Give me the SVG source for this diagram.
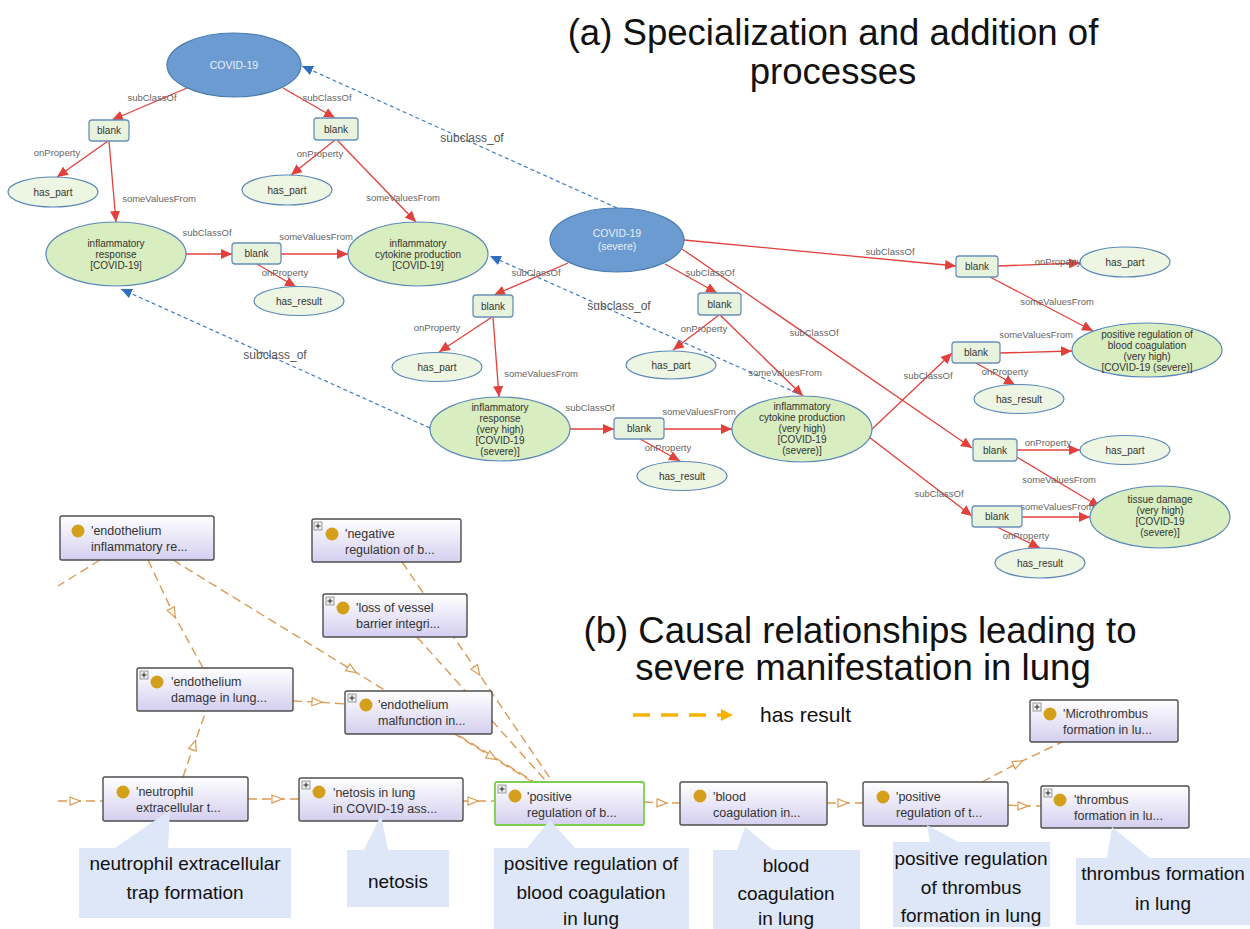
<svg xmlns="http://www.w3.org/2000/svg" width="1250" height="929" viewBox="0 0 1250 929">
<style>
  .title{font-family:"Liberation Sans",Arial,sans-serif;font-size:36.6px;fill:#111;text-anchor:middle}
  .cls{fill:#d8edc0;stroke:#5a88b8;stroke-width:1.2}
  .prop{fill:#edf5e3;stroke:#5a88b8;stroke-width:1.2}
  .root{fill:#6b9bd0;stroke:#4b7db3;stroke-width:1.2}
  .blank{fill:#e8f3de;stroke:#6a90b8;stroke-width:1.3}
  .nt{font-family:"Liberation Sans",Arial,sans-serif;font-size:10px;fill:#333;text-anchor:middle}
  .rt{font-family:"Liberation Sans",Arial,sans-serif;font-size:10.5px;fill:#e8eff9;text-anchor:middle}
  .el{font-family:"Liberation Sans",Arial,sans-serif;font-size:9.5px;fill:#666;text-anchor:middle}
  .sl{font-family:"Liberation Sans",Arial,sans-serif;font-size:12px;fill:#555;text-anchor:middle}
  .red{stroke:#e2403a;stroke-width:1.3;fill:none;marker-end:url(#redArrow)}
  .blue{stroke:#3f7cc4;stroke-width:1.2;fill:none;stroke-dasharray:4 3;marker-end:url(#blueArrow)}
  .res{stroke:#dc9a52;stroke-width:1.4;fill:none;stroke-dasharray:9 5;marker-mid:url(#openTri)}
  .resp{stroke:#dc9a52;stroke-width:1.4;fill:none;stroke-dasharray:9 5}
  .box{fill:url(#boxGrad);stroke:#4d4d4d;stroke-width:1.4}
  .boxSel{fill:url(#boxGrad);stroke:#7ccf4c;stroke-width:1.8}
  .dot{fill:#d4a01c}
  .bt{font-family:"Liberation Sans",Arial,sans-serif;font-size:12.5px;fill:#333}
  .plus{fill:#eeeeee;stroke:#888;stroke-width:0.8}
  .plusl{stroke:#222;stroke-width:1}
  .call{fill:#dde7f7}
  .ct{font-family:"Liberation Sans",Arial,sans-serif;font-size:19px;fill:#111;text-anchor:middle}
  .lg{font-family:"Liberation Sans",Arial,sans-serif;font-size:21px;fill:#111}
</style>
<defs>
  <marker id="redArrow" markerUnits="userSpaceOnUse" markerWidth="12" markerHeight="10" refX="11" refY="5" orient="auto">
    <path d="M0,0 L11,5 L0,10 z" fill="#e2403a"/>
  </marker>
  <marker id="blueArrow" markerUnits="userSpaceOnUse" markerWidth="12" markerHeight="10" refX="11" refY="5" orient="auto">
    <path d="M0,0 L11,5 L0,10 z" fill="#2f6fbf"/>
  </marker>
  <marker id="openTri" markerUnits="userSpaceOnUse" markerWidth="14" markerHeight="12" refX="6" refY="5" orient="auto">
    <path d="M1,1 L11,5 L1,9 z" fill="#ffffff" stroke="#dc9a52" stroke-width="1.2"/>
  </marker>
  <marker id="goldArrow" markerUnits="userSpaceOnUse" markerWidth="14" markerHeight="14" refX="2" refY="7" orient="auto">
    <path d="M0,1 L12,7 L0,13 z" fill="#f5b400"/>
  </marker>
  <linearGradient id="boxGrad" x1="0" y1="0" x2="0" y2="1">
    <stop offset="0" stop-color="#ffffff"/>
    <stop offset="1" stop-color="#d4cfef"/>
  </linearGradient>
</defs>

<!-- headings -->
<text class="title" x="833" y="45">(a) Specialization and addition of</text>
<text class="title" x="833" y="84">processes</text>
<text class="title" x="860" y="643">(b) Causal relationships leading to</text>
<text class="title" x="863" y="680">severe manifestation in lung</text>

<!-- ontology edges -->
<g id="edges-a">
  <path class="red" d="M187,88 L112,120"/>
  <path class="red" d="M283,88 L335,118"/>
  <path class="red" d="M108,141 L57,177"/>
  <path class="red" d="M109,141 L116,222"/>
  <path class="red" d="M335,140 L291,175"/>
  <path class="red" d="M337,140 L416,222"/>
  <path class="red" d="M186,254 L232,254"/>
  <path class="red" d="M281,254 L348,254"/>
  <path class="red" d="M257,264 L296,287"/>
  <path class="red" d="M568,263 L494,295"/>
  <path class="red" d="M665,264 L717,293"/>
  <path class="red" d="M492,317 L439,352"/>
  <path class="red" d="M493,317 L499,397"/>
  <path class="red" d="M719,315 L673,350"/>
  <path class="red" d="M720,315 L803,396"/>
  <path class="red" d="M570,429 L614,429"/>
  <path class="red" d="M664,429 L732,429"/>
  <path class="red" d="M640,439 L680,461"/>
  <path class="red" d="M684,240 L956,266"/>
  <path class="red" d="M682,249 L972,448"/>
  <path class="red" d="M998,266 L1080,263"/>
  <path class="red" d="M990,277 L1093,331"/>
  <path class="red" d="M870,431 L952,353"/>
  <path class="red" d="M869,437 L972,516"/>
  <path class="red" d="M1000,353 L1072,351"/>
  <path class="red" d="M976,363 L1015,385"/>
  <path class="red" d="M1017,450 L1080,450"/>
  <path class="red" d="M1015,456 L1100,507"/>
  <path class="red" d="M1022,517 L1090,517"/>
  <path class="red" d="M997,527 L1040,548"/>
  <path class="blue" d="M617,208 L302,66"/>
  <path class="blue" d="M797,393 L490,256"/>
  <path class="blue" d="M430,428 L121,289"/>
</g>

<g id="edge-labels-a">
  <text class="el" x="152" y="101">subClassOf</text>
  <text class="el" x="327" y="101">subClassOf</text>
  <text class="el" x="207" y="236">subClassOf</text>
  <text class="el" x="536" y="276">subClassOf</text>
  <text class="el" x="710" y="276">subClassOf</text>
  <text class="el" x="590" y="411">subClassOf</text>
  <text class="el" x="890" y="255">subClassOf</text>
  <text class="el" x="814" y="336">subClassOf</text>
  <text class="el" x="928" y="379">subClassOf</text>
  <text class="el" x="939" y="497">subClassOf</text>
  <text class="el" x="57" y="156">onProperty</text>
  <text class="el" x="320" y="157">onProperty</text>
  <text class="el" x="285" y="276">onProperty</text>
  <text class="el" x="437" y="331">onProperty</text>
  <text class="el" x="704" y="332">onProperty</text>
  <text class="el" x="668" y="451">onProperty</text>
  <text class="el" x="1058" y="265">onProperty</text>
  <text class="el" x="1005" y="375">onProperty</text>
  <text class="el" x="1048" y="446">onProperty</text>
  <text class="el" x="1026" y="539">onProperty</text>
  <text class="el" x="159" y="202">someValuesFrom</text>
  <text class="el" x="403" y="201">someValuesFrom</text>
  <text class="el" x="316" y="240">someValuesFrom</text>
  <text class="el" x="541" y="377">someValuesFrom</text>
  <text class="el" x="785" y="376">someValuesFrom</text>
  <text class="el" x="699" y="415">someValuesFrom</text>
  <text class="el" x="1057" y="305">someValuesFrom</text>
  <text class="el" x="1036" y="338">someValuesFrom</text>
  <text class="el" x="1059" y="483">someValuesFrom</text>
  <text class="el" x="1057" y="510">someValuesFrom</text>
  <text class="sl" x="472" y="142">subclass_of</text>
  <text class="sl" x="619" y="310">subclass_of</text>
  <text class="sl" x="275" y="359">subclass_of</text>
</g>

<!-- ontology nodes -->
<g id="covid19"><ellipse class="root" cx="234" cy="65" rx="67" ry="32"/><text class="rt" x="234" y="69">COVID-19</text></g>
<g id="blank-a1"><rect class="blank" x="89" y="120" width="40" height="21" rx="3"/><text class="nt" x="109" y="134">blank</text></g>
<g id="blank-a2"><rect class="blank" x="314" y="118" width="44" height="22" rx="3"/><text class="nt" x="336" y="132.5">blank</text></g>
<g id="has-part-a1"><ellipse class="prop" cx="53" cy="192" rx="45" ry="15"/><text class="nt" x="53" y="195.5">has_part</text></g>
<g id="has-part-a2"><ellipse class="prop" cx="287" cy="190" rx="45" ry="15"/><text class="nt" x="287" y="193.5">has_part</text></g>
<g id="inflam-resp"><ellipse class="cls" cx="116" cy="254" rx="70" ry="32"/>
  <text class="nt" x="116" y="246.5">inflammatory</text><text class="nt" x="116" y="257.5">response</text><text class="nt" x="116" y="268.5">[COVID-19]</text></g>
<g id="blank-a3"><rect class="blank" x="232" y="243" width="49" height="21" rx="3"/><text class="nt" x="256.5" y="257">blank</text></g>
<g id="has-result-a3"><ellipse class="prop" cx="299" cy="301" rx="45" ry="14.5"/><text class="nt" x="299" y="304.5">has_result</text></g>
<g id="inflam-cyt"><ellipse class="cls" cx="418" cy="254" rx="70" ry="32"/>
  <text class="nt" x="418" y="246.5">inflammatory</text><text class="nt" x="418" y="257.5">cytokine production</text><text class="nt" x="418" y="268.5">[COVID-19]</text></g>
<g id="covid19-severe"><ellipse class="root" cx="617" cy="240" rx="67" ry="32"/>
  <text class="rt" x="617" y="237">COVID-19</text><text class="rt" x="617" y="250">(severe)</text></g>
<g id="blank-b1"><rect class="blank" x="473" y="295" width="40" height="22" rx="3"/><text class="nt" x="493" y="309.5">blank</text></g>
<g id="has-part-b1"><ellipse class="prop" cx="437" cy="367" rx="45" ry="14.5"/><text class="nt" x="437" y="370.5">has_part</text></g>
<g id="blank-b2"><rect class="blank" x="698" y="293" width="43" height="22" rx="3"/><text class="nt" x="719.5" y="307.5">blank</text></g>
<g id="has-part-b2"><ellipse class="prop" cx="671" cy="365" rx="45" ry="14"/><text class="nt" x="671" y="368.5">has_part</text></g>
<g id="inflam-resp-severe"><ellipse class="cls" cx="500" cy="429" rx="70" ry="32"/>
  <text class="nt" x="500" y="410.5">inflammatory</text><text class="nt" x="500" y="421.5">response</text><text class="nt" x="500" y="432.5">(very high)</text><text class="nt" x="500" y="443.5">[COVID-19</text><text class="nt" x="500" y="455">(severe)]</text></g>
<g id="blank-b3"><rect class="blank" x="614" y="418" width="50" height="21" rx="3"/><text class="nt" x="639" y="432">blank</text></g>
<g id="has-result-b3"><ellipse class="prop" cx="682" cy="476" rx="45" ry="14.5"/><text class="nt" x="682" y="479.5">has_result</text></g>
<g id="inflam-cyt-severe"><ellipse class="cls" cx="802" cy="429" rx="70" ry="33"/>
  <text class="nt" x="802" y="409.5">inflammatory</text><text class="nt" x="802" y="420.5">cytokine production</text><text class="nt" x="802" y="431.5">(very high)</text><text class="nt" x="802" y="442.5">[COVID-19</text><text class="nt" x="802" y="454">(severe)]</text></g>
<g id="blank-c1"><rect class="blank" x="956" y="256" width="42" height="21" rx="3"/><text class="nt" x="977" y="270">blank</text></g>
<g id="has-part-c1"><ellipse class="prop" cx="1125" cy="262" rx="45" ry="15"/><text class="nt" x="1125" y="265.5">has_part</text></g>
<g id="pos-reg-coag-severe"><ellipse class="cls" cx="1147" cy="350" rx="75" ry="27"/>
  <text class="nt" x="1147" y="337.5">positive regulation of</text><text class="nt" x="1147" y="348.5">blood coagulation</text><text class="nt" x="1147" y="359.5">(very high)</text><text class="nt" x="1147" y="370.5">[COVID-19 (severe)]</text></g>
<g id="blank-c2"><rect class="blank" x="952" y="342" width="48" height="21" rx="3"/><text class="nt" x="976" y="356">blank</text></g>
<g id="has-result-c2"><ellipse class="prop" cx="1019" cy="399" rx="45" ry="14.5"/><text class="nt" x="1019" y="402.5">has_result</text></g>
<g id="blank-c3"><rect class="blank" x="973" y="439" width="44" height="22" rx="3"/><text class="nt" x="995" y="453.5">blank</text></g>
<g id="has-part-c3"><ellipse class="prop" cx="1125" cy="450" rx="45" ry="14.5"/><text class="nt" x="1125" y="453.5">has_part</text></g>
<g id="tissue-damage-severe"><ellipse class="cls" cx="1160" cy="517" rx="70" ry="31"/>
  <text class="nt" x="1160" y="502.5">tissue damage</text><text class="nt" x="1160" y="513.5">(very high)</text><text class="nt" x="1160" y="524.5">[COVID-19</text><text class="nt" x="1160" y="535.5">(severe)]</text></g>
<g id="blank-c4"><rect class="blank" x="972" y="506" width="50" height="21" rx="3"/><text class="nt" x="997" y="520">blank</text></g>
<g id="has-result-c4"><ellipse class="prop" cx="1040" cy="563" rx="45" ry="15"/><text class="nt" x="1040" y="566.5">has_result</text></g>

<!-- legend -->
<g id="legend">
  <path d="M633,715 L723,715" stroke="#f5b400" stroke-width="3.5" stroke-dasharray="17 11" fill="none" marker-end="url(#goldArrow)"/>
  <text class="lg" x="760" y="722">has result</text>
</g>

<!-- causal links -->
<g id="edges-b">
  <path class="resp" d="M100,560 L58,586"/>
  <path class="res" d="M148,560 L173,613 L203,668"/>
  <path class="res" d="M173,560 L352,670 L533,781"/>
  <path class="res" d="M293,701 L317,702 L345,704"/>
  <path class="res" d="M183,777 L194,745 L206,711"/>
  <path class="res" d="M58,801 L75,801 L103,801"/>
  <path class="res" d="M248,799 L277,799 L299,799"/>
  <path class="res" d="M463,801 L473,801 L495,801"/>
  <path class="res" d="M402,562 L477,671 L552,781"/>
  <path class="resp" d="M417,637 L546,781"/>
  <path class="res" d="M453,733 L492,757 L531,781"/>
  <path class="res" d="M644,802 L662,803 L680,803"/>
  <path class="res" d="M827,803 L843,803 L863,803"/>
  <path class="res" d="M1008,805 L1023,806 L1041,806"/>
  <path class="res" d="M982,782 L1018,763 L1062,742"/>
</g>

<!-- process boxes -->
<g id="endothelium-inflammatory">
  <rect class="box" x="60" y="516" width="154" height="44" rx="2"/>
  <circle class="dot" cx="78" cy="531" r="6.5"/>
  <text class="bt" x="91" y="535">'endothelium</text><text class="bt" x="91" y="551">inflammatory re...</text>
</g>
<g id="negative-regulation">
  <rect class="box" x="312" y="519" width="149" height="43" rx="2"/>
  <rect class="plus" x="314" y="522" width="8" height="8"/><path class="plusl" d="M315.5,526 h5 M318,523.5 v5"/>
  <circle class="dot" cx="332" cy="534" r="6.5"/>
  <text class="bt" x="345" y="538">'negative</text><text class="bt" x="345" y="554">regulation of b...</text>
</g>
<g id="loss-of-vessel">
  <rect class="box" x="323" y="594" width="144" height="43" rx="2"/>
  <rect class="plus" x="326" y="597" width="8" height="8"/><path class="plusl" d="M327.5,601 h5 M330,598.5 v5"/>
  <circle class="dot" cx="343" cy="608" r="6.5"/>
  <text class="bt" x="356" y="612">'loss of vessel</text><text class="bt" x="356" y="628">barrier integri...</text>
</g>
<g id="endothelium-damage">
  <rect class="box" x="137" y="668" width="156" height="43" rx="2"/>
  <rect class="plus" x="140" y="671" width="8" height="8"/><path class="plusl" d="M141.5,675 h5 M144,672.5 v5"/>
  <circle class="dot" cx="157" cy="682" r="6.5"/>
  <text class="bt" x="171" y="686">'endothelium</text><text class="bt" x="171" y="702">damage in lung...</text>
</g>
<g id="endothelium-malfunction">
  <rect class="box" x="345" y="691" width="147" height="43" rx="2"/>
  <rect class="plus" x="348" y="694" width="8" height="8"/><path class="plusl" d="M349.5,698 h5 M352,695.5 v5"/>
  <circle class="dot" cx="366" cy="705" r="6.5"/>
  <text class="bt" x="378" y="709">'endothelium</text><text class="bt" x="378" y="725">malfunction in...</text>
</g>
<g id="neutrophil">
  <rect class="box" x="103" y="777" width="145" height="44" rx="2"/>
  <circle class="dot" cx="123" cy="792" r="6.5"/>
  <text class="bt" x="136" y="796">'neutrophil</text><text class="bt" x="136" y="812">extracellular t...</text>
</g>
<g id="netosis">
  <rect class="box" x="299" y="778" width="164" height="43" rx="2"/>
  <rect class="plus" x="302" y="781" width="8" height="8"/><path class="plusl" d="M303.5,785 h5 M306,782.5 v5"/>
  <circle class="dot" cx="319" cy="792" r="6.5"/>
  <text class="bt" x="333" y="797">'netosis in lung</text><text class="bt" x="333" y="813">in COVID-19 ass...</text>
</g>
<g id="positive-regulation-b">
  <rect class="boxSel" x="495" y="782" width="149" height="43" rx="2"/>
  <rect class="plus" x="498" y="785" width="8" height="8"/><path class="plusl" d="M499.5,789 h5 M502,786.5 v5"/>
  <circle class="dot" cx="515" cy="796" r="6.5"/>
  <text class="bt" x="527" y="801">'positive</text><text class="bt" x="527" y="817">regulation of b...</text>
</g>
<g id="blood-coagulation">
  <rect class="box" x="680" y="782" width="147" height="43" rx="2"/>
  <circle class="dot" cx="700" cy="796" r="6.5"/>
  <text class="bt" x="713" y="801">'blood</text><text class="bt" x="713" y="817">coagulation in...</text>
</g>
<g id="positive-regulation-t">
  <rect class="box" x="863" y="782" width="145" height="44" rx="2"/>
  <circle class="dot" cx="883" cy="797" r="6.5"/>
  <text class="bt" x="896" y="801">'positive</text><text class="bt" x="896" y="817">regulation of t...</text>
</g>
<g id="microthrombus">
  <rect class="box" x="1030" y="700" width="148" height="42" rx="2"/>
  <rect class="plus" x="1033" y="703" width="8" height="8"/><path class="plusl" d="M1034.5,707 h5 M1037,704.5 v5"/>
  <circle class="dot" cx="1050" cy="714" r="6.5"/>
  <text class="bt" x="1063" y="718">'Microthrombus</text><text class="bt" x="1063" y="734">formation in lu...</text>
</g>
<g id="thrombus">
  <rect class="box" x="1041" y="786" width="148" height="42" rx="2"/>
  <rect class="plus" x="1044" y="789" width="8" height="8"/><path class="plusl" d="M1045.5,793 h5 M1048,790.5 v5"/>
  <circle class="dot" cx="1060" cy="800" r="6.5"/>
  <text class="bt" x="1074" y="804">'thrombus</text><text class="bt" x="1074" y="820">formation in lu...</text>
</g>

<!-- callouts -->
<g id="callout-net">
  <path class="call" d="M79,848 L115,848 L170,810 L168,848 L291,848 L291,918 L79,918 z"/>
  <text class="ct" x="185" y="870">neutrophil extracellular</text>
  <text class="ct" x="185" y="899">trap formation</text>
</g>
<g id="callout-netosis">
  <path class="call" d="M347,850 L364,850 L381,815 L388,850 L449,850 L449,907 L347,907 z"/>
  <text class="ct" x="398" y="888">netosis</text>
</g>
<g id="callout-pos-b">
  <path class="call" d="M494,848 L527,848 L550,820 L575,848 L689,848 L689,929 L494,929 z"/>
  <text class="ct" x="591" y="870">positive regulation of</text>
  <text class="ct" x="591" y="899">blood coagulation</text>
  <text class="ct" x="591" y="925">in lung</text>
</g>
<g id="callout-blood">
  <path class="call" d="M713,850 L737,850 L745,827 L773,850 L860,850 L860,929 L713,929 z"/>
  <text class="ct" x="786" y="872">blood</text>
  <text class="ct" x="786" y="900">coagulation</text>
  <text class="ct" x="786" y="925">in lung</text>
</g>
<g id="callout-pos-t">
  <path class="call" d="M893,842 L930,842 L927,825 L958,842 L1050,842 L1050,927 L893,927 z"/>
  <text class="ct" x="971" y="865">positive regulation</text>
  <text class="ct" x="971" y="894">of thrombus</text>
  <text class="ct" x="971" y="922">formation in lung</text>
</g>
<g id="callout-thrombus">
  <path class="call" d="M1076,858 L1107,858 L1112,827 L1150,858 L1250,858 L1250,925 L1076,925 z"/>
  <text class="ct" x="1163" y="880">thrombus formation</text>
  <text class="ct" x="1163" y="910">in lung</text>
</g>
</svg>
